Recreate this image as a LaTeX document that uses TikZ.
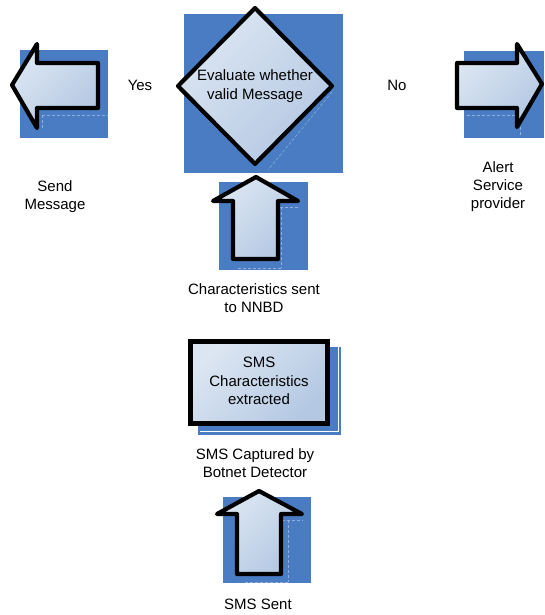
\documentclass[tikz,border=0pt]{standalone}
\usepackage{fontspec}
\setmainfont{Liberation Sans}
\begin{document}
\begin{tikzpicture}[x=1pt,y=-1pt,
  panel/.style={fill=panelblue,draw=none},
  soft fill/.style={left color=litefill,right color=darkfill,shading angle=45},
  shape outline/.style={draw=black,line width=4.2pt,line join=round,soft fill},
  caption/.style={font=\fontsize{15}{18}\selectfont,align=center,inner sep=0pt},
  inside/.style={font=\fontsize{15}{18.5}\selectfont,align=center,inner sep=0pt},
  ghost/.style={draw=white,opacity=0.4,line width=0.5pt,densely dashed}]
\definecolor{panelblue}{HTML}{4A7CC4}
\definecolor{litefill}{HTML}{DCE6F2}
\definecolor{darkfill}{HTML}{B4C8E3}
\useasboundingbox (0,0) rectangle (544,615);

% backing panels
\path[panel] (20,50) rectangle (108,138);
\path[panel] (184,14) rectangle (343,173);
\path[panel] (464,51) rectangle (544,138);
\path[panel] (219,182) rectangle (308,270);
\path[panel] (198,347) rectangle (341,435);
\path[panel] (223,497) rectangle (311,583);

% faint shadow traces
\draw[ghost] (42,115) -- (42,128) (42,115) -- (108,115);
\draw[ghost] (332,92) -- (268,170);
\draw[ghost] (467,115) -- (520,115) -- (520,135);
\draw[ghost] (275,207) -- (298,207) (281,207) -- (281,268) (238,268) -- (281,268);
\draw[ghost] (282,520) -- (303,520) (288,520) -- (288,582) (245,582) -- (288,582);
\draw[draw=white,line width=0.6pt] (200,346) -- (338,346) -- (338,431) -- (200,431);

% decision diamond
\path[shape outline] (255,8) -- (332,86) -- (255,164) -- (178,86) -- cycle;
\node[inside] (decide) at (255,86) {Evaluate whether\\valid Message};

% left arrow: send
\path[shape outline] (12,85) -- (37,44) -- (37,63) -- (98,63) -- (98,108)
  -- (37,108) -- (37,128) -- cycle;
\coordinate (sendarrow) at (60,85);

% right arrow: alert
\path[shape outline] (542,84) -- (517,44) -- (517,63) -- (457,63) -- (457,108)
  -- (517,108) -- (517,127) -- cycle;
\coordinate (alertarrow) at (490,85);

% up arrow between extraction and decision
\path[shape outline] (256,177) -- (298,201) -- (278,201) -- (278,259) -- (233,259)
  -- (233,201) -- (213,201) -- cycle;
\coordinate (uparrowA) at (256,225);

% extraction box
\node[draw=black,line width=4.2pt,soft fill,
  minimum width=137pt,minimum height=82pt,inner sep=0pt] (extract) at (259,382.5) {};
\node[inside] (extracttext) at (259,381) {SMS\\Characteristics\\extracted};

% up arrow from sender
\path[shape outline] (259,491) -- (302,514) -- (281,514) -- (281,574) -- (237,574)
  -- (237,514) -- (217,514) -- cycle;
\coordinate (uparrowB) at (259,540);

% labels
\node[caption] (yes) at (140,85) {Yes};
\node[caption] (no) at (397,85) {No};
\node[caption] (send) at (55,197) {Send\\Message};
\node[caption] (alert) at (498,187) {Alert\\Service\\provider};
\node[caption] (tonnbd) at (254,298) {Characteristics sent\\to NNBD};
\node[caption] (captured) at (255,463) {SMS Captured by\\Botnet Detector};
\node[caption] (sent) at (258,604) {SMS Sent};
\end{tikzpicture}
\end{document}
